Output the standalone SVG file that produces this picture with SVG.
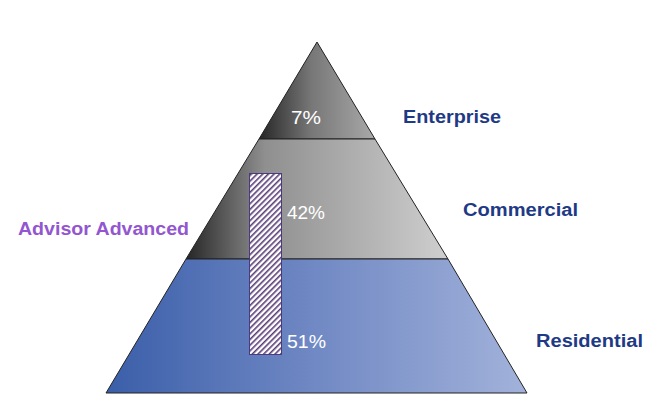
<svg xmlns="http://www.w3.org/2000/svg" width="645" height="397" viewBox="0 0 645 397">
<defs>
<style>
.lbl{font-family:"Liberation Sans",Arial,sans-serif;font-weight:bold;font-size:18px;fill:#1f3a85}
.pct{font-family:"Liberation Sans",Arial,sans-serif;font-size:18px;fill:#ffffff}
.edge{stroke:#222;stroke-width:1}
</style>
<linearGradient id="gTop" x1="0" y1="0" x2="1" y2="0">
<stop offset="0" stop-color="#262626"/>
<stop offset="0.45" stop-color="#777777"/>
<stop offset="1" stop-color="#a9a9a9"/>
</linearGradient>
<linearGradient id="gMid" x1="0" y1="0" x2="1" y2="0">
<stop offset="0" stop-color="#262626"/>
<stop offset="0.3" stop-color="#8f8f8f"/>
<stop offset="1" stop-color="#cfcfcf"/>
</linearGradient>
<linearGradient id="gBot" x1="0" y1="0" x2="1" y2="0">
<stop offset="0" stop-color="#3a5ea9"/>
<stop offset="0.5" stop-color="#7189c4"/>
<stop offset="1" stop-color="#a2b2da"/>
</linearGradient>
<pattern id="hatch" patternUnits="userSpaceOnUse" width="4" height="4" patternTransform="rotate(45)">
<rect width="4" height="4" fill="#ffffff"/>
<rect width="1.6" height="4" fill="#5a3d78"/>
</pattern>
</defs>
<rect width="645" height="397" fill="#ffffff"/>
<g id="tier-enterprise">
<polygon points="317,42 259,139 375,139" fill="url(#gTop)" class="edge"/>
<text class="pct" x="291" y="124" textLength="30" lengthAdjust="spacingAndGlyphs">7%</text>
</g>
<g id="tier-commercial">
<polygon points="259,139 375,139 448,259 186,259" fill="url(#gMid)" class="edge"/>
<text class="pct" x="287" y="219" textLength="38" lengthAdjust="spacingAndGlyphs">42%</text>
</g>
<g id="tier-residential">
<polygon points="186,259 448,259 527,393 106,393" fill="url(#gBot)" class="edge"/>
<text class="pct" x="287" y="348" textLength="39" lengthAdjust="spacingAndGlyphs">51%</text>
</g>
<g id="advisor-bar">
<rect x="249.5" y="173.5" width="32" height="181" fill="url(#hatch)" stroke="#4a3a80" stroke-width="1"/>
</g>
<g id="labels">
<text class="lbl" x="403" y="123" textLength="98" lengthAdjust="spacingAndGlyphs">Enterprise</text>
<text class="lbl" x="463" y="216" textLength="115" lengthAdjust="spacingAndGlyphs">Commercial</text>
<text class="lbl" x="536" y="347" textLength="107" lengthAdjust="spacingAndGlyphs">Residential</text>
<text class="lbl" x="18" y="235" textLength="171" lengthAdjust="spacingAndGlyphs" style="fill:#9356d0">Advisor Advanced</text>
</g>
<g id="connectors"></g>
</svg>
